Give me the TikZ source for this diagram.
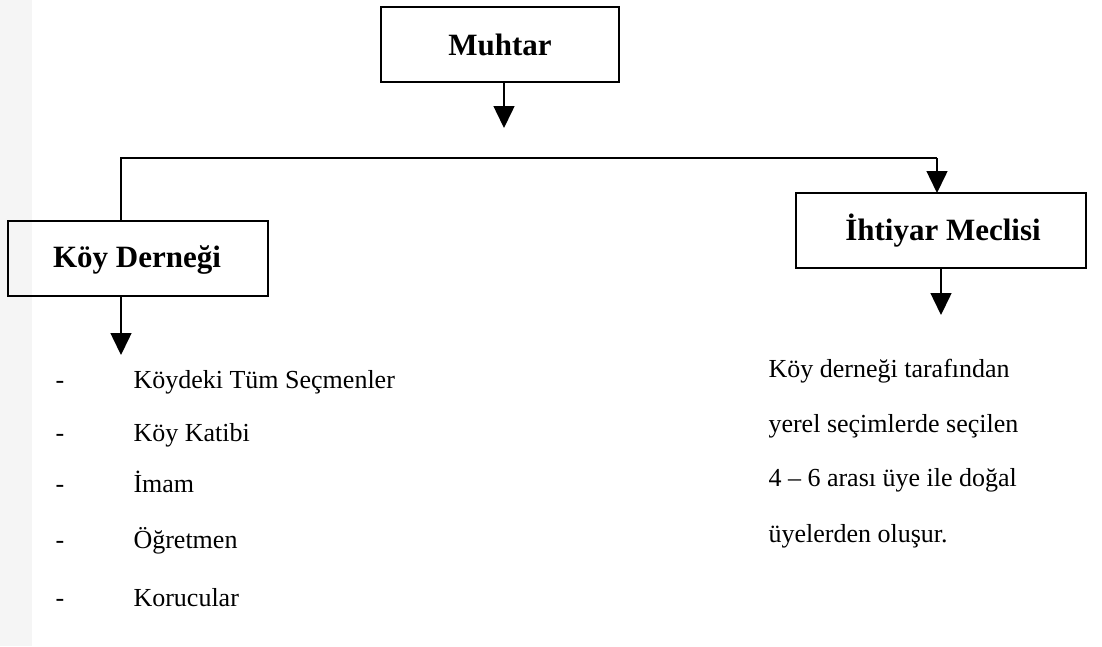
\documentclass[tikz,border=0pt]{standalone}
\usepackage{fontspec}
\setmainfont{Liberation Serif}
\usetikzlibrary{arrows.meta}
\begin{document}
\begin{tikzpicture}[x=1pt,y=-1pt,
  box/.style={draw,line width=1.6pt,inner sep=0pt},
  lbl/.style={font=\fontsize{31}{32}\selectfont\bfseries},
  conn/.style={line width=1.5pt},
  arr/.style={line width=1.5pt,-{Triangle[length=22pt,width=21pt]}},
  item/.style={anchor=base west,font=\fontsize{26}{28}\selectfont},
  bullet/.style={anchor=base west,font=\fontsize{26}{28}\selectfont}
]
\useasboundingbox (0,0) rectangle (1102,646);
\fill[black!4] (0,0) rectangle (32,646);
% boxes
\draw[box] (381,7) rectangle (619,82);
\node[lbl] (muhtar) at (500,45) {Muhtar};
\draw[box] (8,221) rectangle (268,296);
\node[lbl] (koy) at (137,260) {Köy Derneği};
\draw[box] (796,193) rectangle (1086,268);
\node[lbl] (iht) at (943,231) {İhtiyar Meclisi};
\coordinate (m1) at (504,82);
\coordinate (m2) at (504,128);
\draw[arr] (m1) -- (m2);
\coordinate (hl) at (121,221);
\coordinate (h1) at (121,158);
\coordinate (h2) at (937,158);
\coordinate (hr) at (937,193);
\draw[conn] (hl) -- (h1) -- (h2);
\draw[arr] (h2) -- (hr);
\coordinate (k1) at (121,296);
\coordinate (k2) at (121,355);
\draw[arr] (k1) -- (k2);
\coordinate (i1) at (941,268);
\coordinate (i2) at (941,315);
\draw[arr] (i1) -- (i2);
% list
\foreach \t/\yy [count=\i] in {Köydeki Tüm Seçmenler/388, Köy Katibi/441, İmam/492, Öğretmen/548, Korucular/606}{
  \node[bullet] (d\i) at (52,\yy) {-};
  \node[item] (t\i) at (130,\yy) {\t};
}
\node[item] (r1) at (765,377) {Köy derneği tarafından};
\node[item] (r2) at (765,432) {yerel seçimlerde seçilen};
\node[item] (r3) at (765,486) {4 -- 6 arası üye ile doğal};
\node[item] (r4) at (765,542) {üyelerden oluşur.};
\end{tikzpicture}
\end{document}
